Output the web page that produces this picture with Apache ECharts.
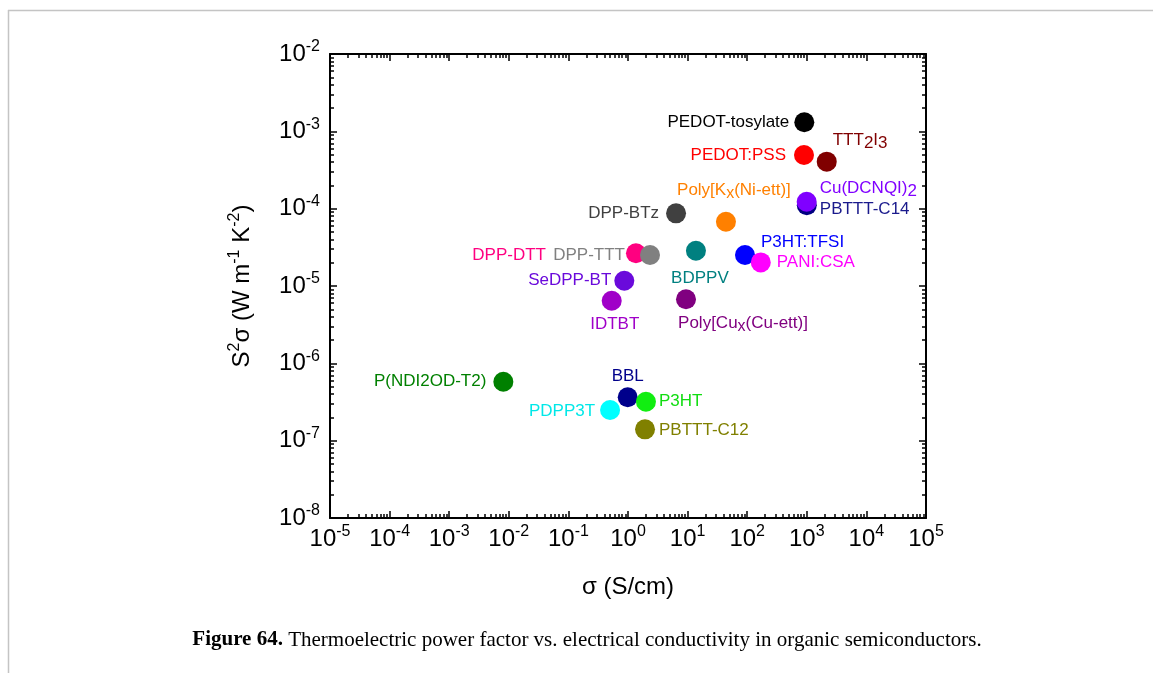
<!DOCTYPE html>
<html>
<head>
<meta charset="utf-8">
<script src="https://cdn.jsdelivr.net/npm/echarts@6/dist/echarts.min.js"></script>
<style>
html,body{margin:0;padding:0;background:#fff;}
#c{width:1153px;height:673px;}
</style>
</head>
<body>
<div id="c"></div>
<script>
// ---------------- data ----------------
const materials = ['PEDOT-tosylate','PEDOT:PSS','TTT2I3','PBTTT-C14','Cu(DCNQI)2','Poly[Kx(Ni-ett)]','DPP-BTz','DPP-DTT','DPP-TTT','BDPPV','P3HT:TFSI','PANI:CSA','SeDPP-BT','IDTBT','Poly[Cux(Cu-ett)]','P(NDI2OD-T2)','PDPP3T','BBL','P3HT','PBTTT-C12'];
const displayNames = ['PEDOT-tosylate','PEDOT:PSS','TTT{s|2}I{s|3}','PBTTT-C14','Cu(DCNQI){s|2}','Poly[K{s|x}(Ni-ett)]','DPP-BTz','DPP-DTT','DPP-TTT','BDPPV','P3HT:TFSI','PANI:CSA','SeDPP-BT','IDTBT','Poly[Cu{s|x}(Cu-ett)]','P(NDI2OD-T2)','PDPP3T','BBL','P3HT','PBTTT-C12'];
// electrical conductivity sigma (S/cm)
const conductivity = [908, 897, 2160, 1000, 995, 44, 6.4, 1.36, 2.34, 13.8, 91.8, 169, 0.867, 0.533, 9.4, 0.0081, 0.50, 0.989, 2.0, 1.93];
// power factor S^2 sigma (W m^-1 K^-2)
const powerFactor = [1.31e-3, 4.94e-4, 4.05e-4, 1.11e-4, 1.23e-4, 6.78e-5, 8.71e-5, 2.65e-5, 2.52e-5, 2.86e-5, 2.52e-5, 2.02e-5, 1.17e-5, 6.45e-6, 6.73e-6, 5.78e-7, 2.49e-7, 3.64e-7, 3.19e-7, 1.40e-7];
const xTickValues = [1e-5,1e-4,1e-3,1e-2,1e-1,1,1e1,1e2,1e3,1e4,1e5];
const yTickValues = [1e-8,1e-7,1e-6,1e-5,1e-4,1e-3,1e-2];

// ---------------- styles ----------------
const markerColors = ['#000000','#ff0000','#800000','#000080','#8000ff','#ff8000','#404040','#ff0080','#808080','#008080','#0000ff','#ff00ff','#6a0adb','#a000c8','#800080','#008000','#00ffff','#00008b','#11ee11','#808000'];
const labelColors  = ['#000000','#ff0000','#800000','#1a1a8c','#8000ff','#ff8000','#404040','#ff0080','#808080','#008080','#0000ff','#ff00ff','#6a0adb','#a000c8','#800080','#008000','#00e8e8','#00008b','#11dd11','#808000'];
// [position, offsetX, offsetY]
const labelPlacement = [
  ['left',0,0],['left',-3,0],['right',-9,-21],['right',-2,4],['right',-2,-13],['top',8,-5],
  ['left',-2,0],['left',-75,2],['left',-10,0],['bottom',4,2],['right',1,-12.5],['right',1,0],
  ['left',2,0],['bottom',3,-2],['bottom',57,-2],['left',-2,0],['left',0,1],['top',0,5],['right',-2,0],['right',-1,1]
];
const subSizes = [16,16,17,16,17,16,16,16,16,16,16,16,16,16,16,16,16,16,16,16];

const SANS = '"Liberation Sans", Arial, Helvetica, sans-serif';
const SERIF = '"Liberation Serif", "Times New Roman", serif';

function minorValues(lo, hi) {
  const out = [];
  for (let e = lo; e < hi; e++) for (let k = 2; k <= 9; k++) out.push(+(k * Math.pow(10, e)).toPrecision(3));
  return out;
}
const xMinor = minorValues(-5, 5);
const yMinor = minorValues(-8, -2);

function powLabel(v) {
  const e = Math.round(Math.log10(v));
  return '{b|10}{p|' + e + '}';
}
const tickRich = {
  b: {fontSize: 24, fontFamily: SANS, color: '#000', lineHeight: 30},
  p: {fontSize: 16, fontFamily: SANS, color: '#000', lineHeight: 24, verticalAlign: 'top'}
};
const lineStyle = {color: '#000', width: 2};
const tickStyle = {color: '#000', width: 1.5};

function axis(kind, pos, min, max, major, minor, isMinor, withLabels, extra) {
  const a = {
    type: 'log', logBase: 10, position: pos, min: min, max: max,
    axisLine: {show: !isMinor, onZero: false, lineStyle: lineStyle},
    axisTick: {show: true, inside: true, length: isMinor ? 4 : 7, customValues: isMinor ? minor : major, lineStyle: tickStyle},
    axisLabel: withLabels ? {show: true, customValues: major, formatter: powLabel, rich: tickRich, margin: kind === 'x' ? 6 : 10} : {show: false},
    splitLine: {show: false},
    minorTick: {show: false},
    axisPointer: {show: false}
  };
  return Object.assign(a, extra || {});
}

const xMin = xTickValues[0], xMax = xTickValues[xTickValues.length - 1];
const yMin = yTickValues[0], yMax = yTickValues[yTickValues.length - 1];

const option = {
  animation: false,
  backgroundColor: '#fff',
  grid: {left: 330, right: 227, top: 54, bottom: 155, containLabel: false},
  xAxis: [
    axis('x','bottom', xMin, xMax, xTickValues, xMinor, false, true, {
      name: 'σ (S/cm)', nameLocation: 'middle', nameGap: 54,
      nameTextStyle: {fontSize: 24, fontFamily: SANS, color: '#000', lineHeight: 30}
    }),
    axis('x','bottom', xMin, xMax, xTickValues, xMinor, true, false),
    axis('x','top', xMin, xMax, xTickValues, xMinor, false, false),
    axis('x','top', xMin, xMax, xTickValues, xMinor, true, false)
  ],
  yAxis: [
    axis('y','left', yMin, yMax, yTickValues, yMinor, false, true, {
      name: 'S{p|2}σ (W m{p|-1} K{p|-2})', nameLocation: 'middle', nameGap: 73, nameRotate: 90,
      nameTextStyle: {fontSize: 24, fontFamily: SANS, color: '#000', lineHeight: 30,
        rich: {p: {fontSize: 16, fontFamily: SANS, color: '#000', lineHeight: 22, verticalAlign: 'top'}}}
    }),
    axis('y','left', yMin, yMax, yTickValues, yMinor, true, false),
    axis('y','right', yMin, yMax, yTickValues, yMinor, false, false),
    axis('y','right', yMin, yMax, yTickValues, yMinor, true, false)
  ],
  series: [{
    type: 'scatter',
    xAxisIndex: 0, yAxisIndex: 0,
    symbol: 'circle', symbolSize: 20,
    emphasis: {disabled: true},
    data: materials.map((m, i) => ({
      name: m,
      value: [conductivity[i], powerFactor[i]],
      itemStyle: {color: markerColors[i], opacity: 1},
      label: {
        show: true,
        position: labelPlacement[i][0],
        offset: [labelPlacement[i][1], labelPlacement[i][2]],
        distance: 5,
        formatter: displayNames[i],
        color: labelColors[i],
        fontSize: 17, fontFamily: SANS, lineHeight: 22,
        rich: {s: {fontSize: subSizes[i], fontFamily: SANS, color: labelColors[i], lineHeight: 10, verticalAlign: 'bottom'}}
      }
    }))
  }],
  graphic: [
    {type: 'line', shape: {x1: 8, y1: 10.5, x2: 1153, y2: 10.5}, style: {stroke: '#c4c4c4', lineWidth: 1.5}, silent: true},
    {type: 'line', shape: {x1: 8.5, y1: 10, x2: 8.5, y2: 673}, style: {stroke: '#c4c4c4', lineWidth: 1.5}, silent: true},
    {type: 'text', x: 587, y: 640, silent: true,
      style: {
        text: '{b|Figure 64.} Thermoelectric power factor vs. electrical conductivity in organic semiconductors.',
        fontSize: 21, fontFamily: SERIF, fill: '#000', align: 'center', verticalAlign: 'middle',
        rich: {b: {fontSize: 21, fontFamily: SERIF, fontWeight: 'bold', fill: '#000'}}
      }
    }
  ]
};
const chart = echarts.init(document.getElementById('c'));
chart.setOption(option);
</script>
</body>
</html>
